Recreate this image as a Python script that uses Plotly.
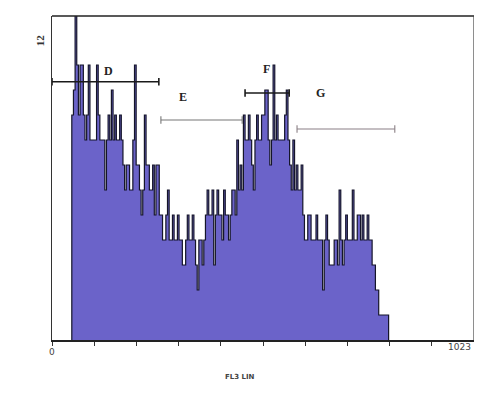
import plotly.graph_objects as go

# Histogram: FL3 LIN channel bins (4 channels wide) starting at channel 48
bin_start = 48
bin_width = 4
counts = [9, 10, 13, 11, 9, 11, 11, 9, 8, 9,
          11, 8, 8, 8, 8, 11, 9, 8, 8, 8,
          6, 8, 9, 8, 10, 8, 9, 8, 8, 9,
          8, 7, 6, 7, 7, 6, 6, 8, 11, 7,
          7, 6, 5, 6, 9, 7, 7, 6, 6, 7,
          5, 7, 7, 5, 5, 4, 4, 5, 6, 4,
          4, 5, 4, 4, 5, 4, 4, 3, 3, 4,
          5, 4, 4, 5, 4, 3, 2, 4, 4, 3,
          4, 5, 6, 5, 5, 6, 3, 5, 6, 5,
          5, 4, 6, 5, 5, 4, 5, 6, 6, 5,
          8, 6, 7, 6, 9, 8, 8, 9, 8, 7,
          6, 8, 9, 8, 8, 9, 9, 10, 10, 8,
          7, 8, 11, 8, 9, 8, 8, 8, 8, 9,
          10, 8, 7, 6, 8, 6, 7, 6, 6, 7,
          5, 4, 4, 5, 5, 4, 4, 4, 5, 4,
          4, 4, 2, 4, 5, 4, 3, 3, 3, 4,
          4, 3, 6, 4, 3, 4, 5, 4, 4, 4,
          6, 4, 4, 5, 5, 4, 5, 4, 4, 5,
          4, 4, 3, 3, 2, 2, 1, 1, 1, 1,
          1, 1]

# Gate markers
gate_names = ["D", "E", "F", "G"]
gate_start = [0, 264, 468, 594]
gate_end = [259, 461, 575, 831]
gate_level = [10.33, 8.8, 9.88, 8.44]
gate_label_x = [136, 318, 521, 652]
gate_label_y = [10.76, 9.72, 10.84, 9.88]
gate_colors = ["#1a1a1a", "#777777", "#1a1a1a", "#8a7f85"]

x_ticks = [0, 102.3, 204.6, 306.9, 409.2, 511.5, 613.8, 716.1, 818.4, 920.7, 1023]

xs = [bin_start]
ys = [0]
for i, c in enumerate(counts):
    xs.append(bin_start + i * bin_width)
    ys.append(c)
xs.append(bin_start + len(counts) * bin_width)
ys.append(counts[-1])
xs.append(bin_start + len(counts) * bin_width)
ys.append(0)

fig = go.Figure()
fig.add_trace(go.Scatter(
    x=xs, y=ys, mode="lines", line=dict(shape="hv", color="#15152a", width=1.2),
    fill="tozeroy", fillcolor="#6b63c9", hoverinfo="skip", showlegend=False))

shapes = []
annotations = []
for n, s, e, lv, lx, ly, col in zip(gate_names, gate_start, gate_end, gate_level,
                                     gate_label_x, gate_label_y, gate_colors):
    w = 1.6 if col == "#1a1a1a" else 1.1
    shapes.append(dict(type="line", x0=s, x1=e, y0=lv, y1=lv, xref="x", yref="y",
                       line=dict(color=col, width=w)))
    for xe in (s, e):
        shapes.append(dict(type="line", x0=xe, x1=xe, y0=lv - 0.15, y1=lv + 0.15,
                           xref="x", yref="y", line=dict(color=col, width=w)))
    annotations.append(dict(x=lx, y=ly, xref="x", yref="y", text="<b>" + n + "</b>",
                            showarrow=False,
                            font=dict(family="Liberation Serif", size=12, color="#222222")))

# frame top and right
shapes.append(dict(type="line", xref="paper", yref="paper", x0=0, x1=1, y0=1, y1=1,
                   line=dict(color="#222222", width=1.5)))
shapes.append(dict(type="line", xref="paper", yref="paper", x0=1, x1=1, y0=0, y1=1,
                   line=dict(color="#444444", width=1.2)))

annotations.append(dict(x=-0.028, y=12, xref="paper", yref="y", text="<b>12</b>", textangle=-90,
                        showarrow=False, xanchor="center",
                        font=dict(family="Liberation Serif", size=11, color="#333333")))
annotations.append(dict(x=0, y=-0.015, xref="x", yref="paper", text="0", showarrow=False,
                        yanchor="top", xanchor="center",
                        font=dict(family="DejaVu Sans", size=9, color="#444444")))
annotations.append(dict(x=0.998, y=-0.0, xref="paper", yref="paper", text="1023",
                        showarrow=False, yanchor="top", xanchor="right",
                        font=dict(family="DejaVu Sans", size=9, color="#444444")))
annotations.append(dict(x=0.445, y=-0.115, xref="paper", yref="paper", text="<b>FL3 LIN</b>",
                        showarrow=False, yanchor="middle",
                        font=dict(family="DejaVu Sans", size=7, color="#444444")))

# page body adds an 8px margin all round, so the figure is sized to fit the window
fig.update_layout(
    width=466, height=387,
    margin=dict(l=44, r=0, t=8, b=55),
    paper_bgcolor="white", plot_bgcolor="white",
    shapes=shapes, annotations=annotations,
    xaxis=dict(range=[0, 1023], tickvals=x_ticks, ticktext=[""] * len(x_ticks),
               ticks="outside", ticklen=4, tickcolor="#333333", tickwidth=1,
               showline=True, linecolor="#222222", linewidth=1.5,
               showgrid=False, zeroline=False, fixedrange=True),
    yaxis=dict(range=[0, 12.96], showticklabels=False, ticks="",
               showline=True, linecolor="#333333", linewidth=1.2,
               showgrid=False, zeroline=False, fixedrange=True),
)

fig.write_html("out.html")
